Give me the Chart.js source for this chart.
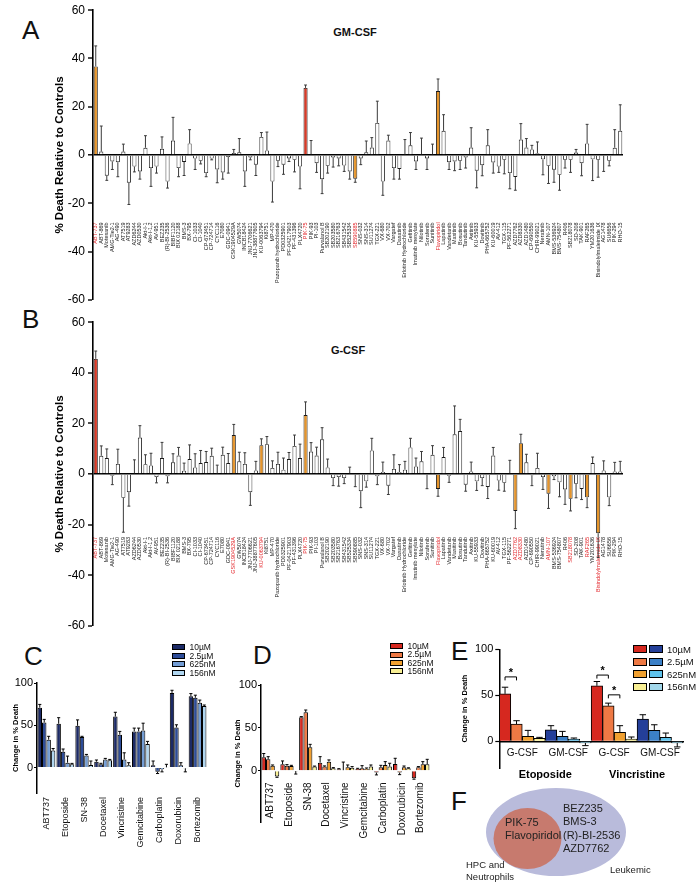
<!DOCTYPE html>
<html>
<head>
<meta charset="utf-8">
<script src="https://cdn.jsdelivr.net/npm/chart.js@4.4.1/dist/chart.umd.min.js"></script>
<style>
  body { margin: 0; background: #fff; width: 700px; height: 886px; position: relative; overflow: hidden;
         font-family: "Liberation Sans", Arial, sans-serif; color: #111; }
  canvas { position: absolute; }
  .letter { position: absolute; font-size: 26px; line-height: 1; color: #111; }
  .ttl { position: absolute; font-size: 11px; font-weight: bold; transform: translate(-50%, -50%); white-space: nowrap; }
  .lg { position: absolute; line-height: 1; white-space: nowrap; }
  .lg div { display: flex; align-items: center; }
  .sw { display: inline-block; box-sizing: border-box; border: 1px solid #000; margin-right: 1.5px; }
  .lg .t { margin-left: 3px; }
</style>
</head>
<body>

<div class="letter" style="left:22px;top:17px">A</div>
<div class="letter" style="left:22px;top:306px">B</div>
<div class="letter" style="left:24px;top:643px">C</div>
<div class="letter" style="left:253px;top:642px">D</div>
<div class="letter" style="left:451px;top:638px">E</div>
<div class="letter" style="left:451px;top:788px">F</div>
<div class="ttl" style="left:355px;top:32px">GM-CSF</div>
<div class="ttl" style="left:348px;top:350px">G-CSF</div>

<canvas id="chartA" width="680" height="310" style="left:0;top:0"></canvas>
<canvas id="chartB" width="680" height="324" style="left:0;top:312px"></canvas>
<canvas id="chartC" width="225" height="236" style="left:0;top:650px"></canvas>
<canvas id="chartD" width="225" height="236" style="left:225px;top:650px"></canvas>
<canvas id="chartE" width="250" height="160" style="left:450px;top:630px"></canvas>

<svg style="position:absolute;left:440px;top:778px" width="260" height="108" viewBox="440 778 260 108">
  <ellipse cx="556" cy="832" rx="70" ry="44" fill="#b9bbdb"/>
  <ellipse cx="527.5" cy="838.5" rx="34" ry="30.5" fill="#c77a6e"/>
  <g font-family="Liberation Sans, Arial, sans-serif" font-size="11" fill="#222">
    <text x="505" y="826">PIK-75</text>
    <text x="505" y="839">Flavopiridol</text>
    <text x="563" y="812">BEZ235</text>
    <text x="563" y="825">BMS-3</text>
    <text x="563" y="838.5">(R)-BI-2536</text>
    <text x="563" y="852">AZD7762</text>
  </g>
  <g font-family="Liberation Sans, Arial, sans-serif" font-size="9.5" fill="#222">
    <text x="466" y="868">HPC and</text>
    <text x="466" y="879.5">Neutrophils</text>
    <text x="610" y="873">Leukemic</text>
  </g>
</svg>

<script>
// ---- panels A / B : kinase inhibitor screen ----
const drugs = [
  'ABT-737', 'ABT-869', 'Motesanib', 'AMG-Tie2-1', 'AG-490', 'AT7519', 'AT9283', 'AZD6244', 'AZD0530', 'Akt-I-1', 'Akt-I-1,2', 'AV-951',
  'BEZ235', '(R)-BI-2536', 'BIBF1120', 'BIX 02188', 'BMS-3', 'BX-795', 'CI-1033', 'CI-1040', 'CP-673451', 'CP-724714', 'CYC116', 'E7080',
  'GDC-0941', 'GSK1904529A', 'GW5074', 'INCB18424', 'JNJ-7706621', 'JNJ-38877605', 'KU-0063794', 'Ki8751', 'MP-470', 'Pazopanib hydrochloride', 'PD0325901', 'PF-04217903',
  'PF-431396', 'PLX4720', 'PIK-75', 'PIK-93', 'PI-103', 'Purvalanol B', 'SB202190', 'SB203580', 'SB216763', 'SB431542', 'SB525334', 'SB590885',
  'SNS-032', 'SNS-314', 'SU11274', 'TGX-221', 'VX-680', 'VX-702', 'Vargatef', 'Dasatinib', 'Erlotinib Hydrochloride', 'Gefitinib', 'Imatinib mesylate', 'Nilotinib',
  'Sorafenib', 'Sunitinib', 'Flavopiridol', 'Lapatinib', 'Vandetanib', 'Masitinib', 'Bosutinib', 'Tandutinib', 'Axitinib', 'KU-55933', 'Dovitinib', 'PHA-665752',
  'KU-60019', 'AV-412', 'TGX-115', 'PF-562271', 'AZD7762', 'AZD8330', 'AZD1480', 'CP-690550', 'CHIR-99021', 'Neratinib', 'AMN-107', 'BMS-536924',
  'BMS-754807', 'R406', 'SB218078', 'SD-208', 'TAK-901', 'RAF265', 'YM201636', 'Bisindolylmaleimide IX', 'AG1478', 'SU6656', 'PIK-294', 'RHO-15'
];

const gmcsfMean = [
  36.7, 1.4, -8.6, -2.7, -3, 1.4, -11.5, -4.8, -6.8, 3, -5.4, -4.8,
  2.6, -11, 6, -5.4, -2.9, 4.8, -1.5, -2.4, -7.5, -1.5, -6, -7.2,
  -0.8, 0.8, 1.1, -6.8, -1, -4, 7.5, 1.9, -11, -2.4, -4, -1.4,
  -2, -4.8, 27.8, 0.3, -3.4, -10, -4.5, -1, -1.4, -4.4, -6.8, -9.8,
  -1.4, 1.1, 3.1, 13.3, -11, 6, -5.4, -5.8, 0.4, 4, -2.7, 0.4,
  -1.4, 0.4, 26.5, 10, -3, -2.7, -2.4, -1, 3.1, -6.5, -4.2, 4,
  -3.1, -4.8, -2, -7.5, -9.1, 6.4, 3.1, 2.3, 0.7, -1.8, -4.5, -6.1,
  -8.2, -2, -2, 1, -3.4, 4.8, -1.8, -2, -0.3, -2.4, 3, 10
];
const gmcsfErr = [
  8.5, 10.6, 1.9, 3.3, 6, 3.1, 9, 2.2, 3.2, 5, 7.6, 2.7,
  4.9, 2.7, 9.6, 3.6, 5.6, 5.7, 4.5, 1.3, 1.5, 0.5, 5.5, 2.8,
  6.7, 1.5, 5.7, 6.2, 1, 4.5, 1.8, 7.6, 8.5, 2.4, 4, 1.3,
  5, 9.2, 1.2, 5.7, 3.8, 6, 3, 4, 3.1, 2.4, 3.2, 1.5,
  2.6, 4.7, 4.1, 9, 5.7, 2.2, 4.6, 4.2, 6, 5.3, 3.3, 6.6,
  4.6, 4.1, 5, 6.7, 3, 3.8, 3.6, 4.4, 8.2, 7.1, 4.4, 6.5,
  4.4, 2.4, 5.8, 6.5, 5.5, 6.6, 3.7, 1.7, 4.7, 6.4, 7.3, 5.2,
  6.4, 3.4, 5.2, 1.3, 5.2, 7.9, 8.8, 7.2, 6.5, 2.1, 7.5, 10.8
];
const gcsfMean = [
  45.5, 7.2, 6.3, -0.7, 4, -9.4, -7.2, 0.3, 14.4, 3.9, 3.4, -1.2,
  6.3, -0.9, 4.6, 7.3, 1.3, 5.9, 2.6, 4.3, 4.7, 7.2, 0.4, 7.6,
  4.3, 15.4, 5, 4, -7.2, 1.4, 11.4, 11.8, 2.4, 4, 1.7, 5.9,
  11.1, 6.3, 23.3, 8.9, 7.3, 13.7, 2.6, -1.6, -1.2, -1.6, 0.3, -0.3,
  -6.8, -2.9, 9.3, -0.9, 0.8, -4.6, 2, 0.8, 1.7, 10.5, 3, 5,
  -0.3, 7.6, -5.9, 6.7, -0.7, 15.7, 17, -4.2, 1, -2.9, -1.6, -5.1,
  7.3, -2.6, -3.5, 0.3, -14.6, 12.2, 4.6, -0.5, 2.4, -1.2, -7.8, -0.9,
  -3.3, -6.1, -9.8, -3.9, -5.9, -9.2, 4.3, -23.4, 1.4, -9.2, 1, 1
];
const gcsfErr = [
  3.1, 3.9, 3.6, 3.5, 5.8, 13.6, 5.5, 5.3, 4.7, 3.7, 4.8, 2.3,
  6.2, 2.6, 3.4, 3.2, 3, 5.6, 5.4, 5, 4.2, 3, 3.1, 3,
  3.8, 4.2, 3.6, 4.4, 5.2, 3.6, 2.5, 3, 2.8, 4.6, 4.6, 2.6,
  4.3, 5.5, 5.2, 3.5, 3.3, 4.6, 3.3, 3, 3.6, 2.2, 2.4, 4.7,
  6.5, 2.3, 4.8, 3.3, 3.9, 3.5, 5.6, 2.9, 3.3, 3.6, 3.3, 3.9,
  5.5, 3.6, 2.9, 3.8, 2.6, 11.2, 4.6, 2.6, 3.7, 3.6, 3, 4.6,
  3.2, 3.8, 3.3, 5.1, 7, 3.5, 3.2, 4.1, 5.8, 4.9, 5.8, 1.3,
  5.7, 5.9, 4.8, 5.5, 4.2, 4.1, 2.4, 9.6, 3.8, 3.3, 3.6, 4
];
// highlighted compounds (0-based index into drugs)
const gmcsfRed = [38];
const gmcsfOrange = [0, 47, 62];
const gcsfRed = [0];
const gcsfOrange = [25, 30, 38, 62, 76, 77, 82, 86, 89, 91];

// ---- panels C / D : chemotherapy dose response ----
const chemoDrugs = ['ABT737', 'Etoposide', 'SN-38', 'Docetaxel', 'Vincristine', 'Gemcitabine', 'Carboplatin', 'Doxorubicin', 'Bortezomib'];
const doses = ['10µM', '2.5µM', '625nM', '156nM'];

const leuk10 = [70.8, 51.8, 49.4, 7, 60.3, 42.8, 2.7, 88.3, 84.4];
const leuk10Err = [3.9, 7.2, 7, 2, 5.1, 3.9, 5.1, 3.1, 3.1];
const leuk25 = [53.3, 18.7, 36.2, 3.9, 38.9, 42.8, -5, 47.5, 82.5];
const leuk25Err = [3.7, 3.3, 0.8, 1.2, 3.9, 3.9, 2, 3.1, 3.1];
const leuk625 = [33, 5.8, 14.4, 9.7, 9.7, 44, -2, 2.7, 76.7];
const leuk625Err = [4, 7.8, 1.2, 1.2, 7.8, 8.5, 3, 3.1, 3.1];
const leuk156 = [20.2, 3.9, 3.1, 8.6, 2.7, 28, 0.3, -0.8, 72.8];
const leuk156Err = [2.4, 1.1, 4.7, 1.1, 3.1, 3, 3.6, 4.2, 1.2];

const neut10 = [15.6, 7.4, 62.3, 9.3, 1.6, 1.9, -2.3, 7.8, -9];
const neut10Err = [4.4, 3.9, 0.8, 7, 0.7, 0.8, 2.7, 6.6, 1];
const neut25 = [13.2, 5.8, 68.1, 4.7, 0.5, 2.7, 3.9, -2.3, 3.9];
const neut25Err = [3.1, 1.2, 2.7, 0.8, 9.5, 3.1, 2.3, 2.4, 0.8];
const neut625 = [5.8, 5.4, 27.2, 10.5, 3.9, 2.3, 6.6, 3.9, 7.4];
const neut625Err = [0.8, 0.8, 3.5, 2, 2.7, 0.8, 3.9, 1.5, 3.1];
const neut156 = [-7, -0.5, 4.7, 2.7, 3.5, 4.7, 4.7, 2.7, 7.4];
const neut156Err = [0.8, 3.5, 0.6, 0.8, 1.2, 1.9, 3.9, 0.6, 5.8];

// ---- panel E : G-CSF vs GM-CSF ----
const cytokines = ['G-CSF', 'GM-CSF', 'G-CSF', 'GM-CSF'];
const cytoDrugs = ['Etoposide', 'Vincristine'];
const cyto10 = [51.6, 12.6, 60.3, 24.2];
const cyto10Err = [7.2, 4.4, 4.7, 4.7];
const cyto25 = [18.8, 5.4, 38.6, 11.9];
const cyto25Err = [3.6, 5.4, 2.9, 6.1];
const cyto625 = [5.4, 2.5, 9.7, 4.3];
const cyto625Err = [6.5, 1.1, 7.3, 4.7];
const cyto156 = [3.2, -1.8, 2.5, -1.8];
const cyto156Err = [1.1, 2.9, 2.2, 4.3];
// significance brackets: category, dataset pair, height
const sigPairs = [
  { cat: 0, from: 0, to: 1, level: 70 },
  { cat: 2, from: 0, to: 1, level: 72 },
  { cat: 2, from: 1, to: 2, level: 50.5 }
];

const RED = '#d93a27';
const ORANGE = '#e6952b';
const navyShades = ['#1c2a66', '#2d4c98', '#739dd5', '#b0d6f0'];
const redShades = ['#d6281f', '#ee7944', '#f0a030', '#f8ef94'];
const blueShades = ['#243f99', '#3b80c7', '#5ec2ec', '#a2d7ea'];
const FONT = "'Liberation Sans', Arial, sans-serif";
Chart.defaults.font.family = FONT;
Chart.defaults.color = '#111';

const errorBars = {
  id: 'errorBars',
  afterDatasetsDraw(chart, args, opts) {
    const ctx = chart.ctx;
    const y = chart.scales.y;
    chart.data.datasets.forEach((ds, di) => {
      if (!ds.errors) return;
      chart.getDatasetMeta(di).data.forEach((bar, i) => {
        const v = ds.data[i];
        const end = y.getPixelForValue(v >= 0 ? v + ds.errors[i] : v - ds.errors[i]);
        const cap = Math.max(bar.width * opts.cap, 1.2);
        ctx.save();
        ctx.strokeStyle = opts.color;
        ctx.lineWidth = opts.width;
        ctx.beginPath();
        ctx.moveTo(bar.x, bar.y);
        ctx.lineTo(bar.x, end);
        ctx.moveTo(bar.x - cap, end);
        ctx.lineTo(bar.x + cap, end);
        ctx.stroke();
        ctx.restore();
      });
    });
  }
};

const sigMarks = {
  id: 'sigMarks',
  afterDatasetsDraw(chart) {
    const ctx = chart.ctx;
    const y = chart.scales.y;
    sigPairs.forEach(p => {
      const a = chart.getDatasetMeta(p.from).data[p.cat];
      const b = chart.getDatasetMeta(p.to).data[p.cat];
      const py = y.getPixelForValue(p.level);
      ctx.save();
      ctx.strokeStyle = '#000';
      ctx.lineWidth = 1;
      ctx.beginPath();
      ctx.moveTo(a.x, py + 3.5);
      ctx.lineTo(a.x, py);
      ctx.lineTo(b.x, py);
      ctx.lineTo(b.x, py + 3.5);
      ctx.stroke();
      ctx.fillStyle = '#000';
      ctx.font = 'bold 11px ' + FONT;
      ctx.textAlign = 'center';
      ctx.fillText('*', (a.x + b.x) / 2, py - 1);
      ctx.restore();
    });
  }
};

function screenChart(id, means, errs, redBars, orangeBars, labelAt, padTop) {
  const hits = redBars.concat(orangeBars);
  new Chart(document.getElementById(id), {
    type: 'bar',
    data: {
      labels: drugs,
      datasets: [{
        data: means,
        errors: errs,
        backgroundColor: means.map((v, i) => redBars.includes(i) ? RED : orangeBars.includes(i) ? ORANGE : '#fff'),
        borderColor: '#1a1a1a',
        borderWidth: 0.9,
        barPercentage: 0.74,
        categoryPercentage: 1
      }]
    },
    options: {
      responsive: false,
      animation: false,
      devicePixelRatio: 1,
      layout: { padding: { left: 49, right: 57, top: padTop, bottom: 8 } },
      plugins: {
        legend: { display: false },
        tooltip: { enabled: false },
        errorBars: { color: '#3a3a3a', width: 1, cap: 0.35 }
      },
      scales: {
        x: {
          position: { y: labelAt },
          grid: { display: false, drawTicks: false },
          border: { display: false },
          ticks: {
            autoSkip: false, minRotation: 90, maxRotation: 90, padding: 1,
            font: { size: 5.5 },
            color: c => hits.includes(c.index) ? '#e3262b' : '#1a1a1a'
          }
        },
        y: {
          min: -60, max: 60,
          afterFit: s => { s.width = 44; },
          ticks: { stepSize: 20, font: { size: 12 }, color: '#000', padding: 3 },
          grid: {
            color: c => c.tick.value === 0 ? '#000' : 'rgba(0,0,0,0)',
            lineWidth: c => c.tick.value === 0 ? 1.6 : 0,
            tickColor: '#000', tickLength: 5, tickWidth: 1.4
          },
          border: { color: '#000', width: 1.6 },
          title: {
            display: true, text: '% Death Relative to Controls', color: '#000',
            font: { size: 11.5, weight: 'bold' }, padding: { top: 4, bottom: 0 }
          }
        }
      }
    },
    plugins: [errorBars]
  });
}

screenChart('chartA', gmcsfMean, gmcsfErr, gmcsfRed, gmcsfOrange, -27.5, 8);
screenChart('chartB', gcsfMean, gcsfErr, gcsfRed, gcsfOrange, -24.5, 10);

function doseChart(id, series, errs, colors, opt) {
  new Chart(document.getElementById(id), {
    type: 'bar',
    data: {
      labels: chemoDrugs,
      datasets: doses.map((d, k) => ({
        label: d, data: series[k], errors: errs[k],
        backgroundColor: colors[k], borderColor: '#000', borderWidth: 1,
        barPercentage: 1, categoryPercentage: 0.94
      }))
    },
    options: {
      responsive: false,
      animation: false,
      devicePixelRatio: 1,
      layout: { padding: opt.padding },
      plugins: {
        legend: { display: false },
        tooltip: { enabled: false },
        errorBars: { color: '#000', width: 1, cap: 0.35 }
      },
      scales: {
        x: {
          position: opt.xPos,
          afterFit: opt.xHeight ? (s => { s.height = opt.xHeight; }) : undefined,
          grid: { display: false, drawTicks: false },
          border: { display: false },
          ticks: { autoSkip: false, minRotation: 90, maxRotation: 90, padding: opt.xPad, font: { size: opt.xFont }, color: '#111' }
        },
        y: {
          min: opt.yMin, max: 100,
          afterFit: s => { s.width = opt.yWidth; },
          afterBuildTicks: s => { s.ticks = s.ticks.filter(t => t.value >= 0 && t.value % 50 === 0); },
          ticks: { stepSize: 50, includeBounds: false, font: { size: 11 }, color: '#000', padding: 1 },
          grid: { drawOnChartArea: false, tickColor: '#000', tickLength: 3, tickWidth: 1.2 },
          border: { color: '#000', width: 1.5 },
          title: {
            display: true, text: 'Change in % Death', color: '#000',
            font: { size: 7.5, weight: 'bold' }, padding: { top: 2, bottom: 0 }
          }
        }
      }
    },
    plugins: [errorBars]
  });
}

doseChart('chartC',
  [leuk10, leuk25, leuk625, leuk156],
  [leuk10Err, leuk25Err, leuk625Err, leuk156Err],
  navyShades,
  { padding: { left: 9, right: 18, top: 33, bottom: 0 }, xPos: 'bottom', xHeight: 93, xPad: 4, xFont: 9, yMin: -30, yWidth: 28 });

doseChart('chartD',
  [neut10, neut25, neut625, neut156],
  [neut10Err, neut25Err, neut625Err, neut156Err],
  redShades,
  { padding: { left: 6.5, right: 20, top: 35, bottom: 64 }, xPos: { y: -12.5 }, xPad: 1, xFont: 10, yMin: -60, yWidth: 29.5 });

// panel E
const cytoSeries = [cyto10, cyto25, cyto625, cyto156];
const cytoErrs = [cyto10Err, cyto25Err, cyto625Err, cyto156Err];
new Chart(document.getElementById('chartE'), {
  type: 'bar',
  data: {
    labels: cytokines,
    datasets: doses.map((d, k) => ({
      label: d, data: cytoSeries[k], errors: cytoErrs[k], xAxisID: 'x',
      backgroundColor: cytokines.map(c => c === 'G-CSF' ? redShades[k] : blueShades[k]),
      borderColor: '#000', borderWidth: 1,
      barPercentage: 1, categoryPercentage: 1
    }))
  },
  options: {
    responsive: false,
    animation: false,
    devicePixelRatio: 1,
    layout: { padding: { left: 8.5, right: 17, top: 19.3, bottom: 0 } },
    plugins: {
      legend: { display: false },
      tooltip: { enabled: false },
      errorBars: { color: '#000', width: 1, cap: 0.28 }
    },
    scales: {
      x: {
        position: { y: 0 },
        grid: { display: false, drawTicks: false },
        border: { display: true, color: '#000', width: 1.5 },
        ticks: { padding: 6, font: { size: 10 }, color: '#111' }
      },
      x2: {
        type: 'category', axis: 'x', labels: cytoDrugs, position: 'bottom', offset: true,
        afterFit: s => { s.height = 22; },
        grid: { display: false, drawTicks: false },
        border: { display: false },
        ticks: { padding: 0, font: { size: 11, weight: 'bold' }, color: '#000' }
      },
      y: {
        min: -29, max: 100,
        afterFit: s => { s.width = 40.8; },
        afterBuildTicks: s => { s.ticks = s.ticks.filter(t => t.value >= 0 && t.value % 50 === 0); },
        ticks: { stepSize: 50, includeBounds: false, font: { size: 11 }, color: '#000', padding: 2 },
        grid: { drawOnChartArea: false, tickColor: '#000', tickLength: 4, tickWidth: 1.2 },
        border: { color: '#000', width: 1.5 },
        title: {
          display: true, text: 'Change in % Death', color: '#000',
          font: { size: 7.5, weight: 'bold' }, padding: { top: 2, bottom: 0 }
        }
      }
    }
  },
  plugins: [errorBars, sigMarks]
});

// legends
function buildLegend(left, top, rowH, fontSize, sw, colorSets) {
  const box = document.createElement('div');
  box.className = 'lg';
  box.style.left = left + 'px';
  box.style.top = top + 'px';
  box.style.fontSize = fontSize + 'px';
  doses.forEach((name, k) => {
    const row = document.createElement('div');
    row.style.height = rowH + 'px';
    colorSets.forEach(cs => {
      const s = document.createElement('span');
      s.className = 'sw';
      s.style.width = sw[0] + 'px';
      s.style.height = sw[1] + 'px';
      s.style.background = cs[k];
      row.appendChild(s);
    });
    const t = document.createElement('span');
    t.className = 't';
    t.textContent = name;
    row.appendChild(t);
    box.appendChild(row);
  });
  document.body.appendChild(box);
}
buildLegend(172, 643, 8.6, 8.5, [13, 6], [navyShades]);
buildLegend(390, 642, 8.4, 8.5, [13, 6], [redShades]);
buildLegend(633, 643, 12.5, 9.5, [14, 8], [redShades, blueShades]);
</script>
</body>
</html>
